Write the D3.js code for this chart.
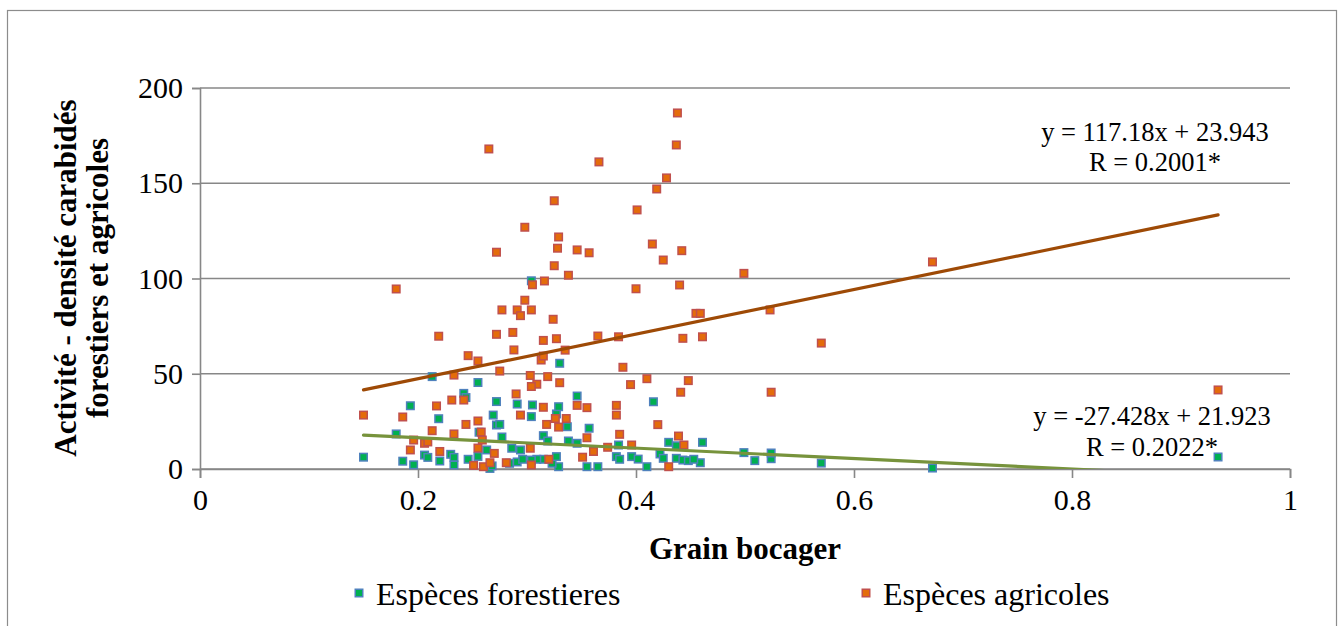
<!DOCTYPE html>
<html>
<head>
<meta charset="utf-8">
<script src="https://cdn.jsdelivr.net/npm/d3@7"></script>
<style>
  html, body { margin: 0; padding: 0; background: #fff; }
  svg { display: block; }
  svg text { font-family: "Liberation Serif", "Times New Roman", serif; }
</style>
</head>
<body>
<svg id="chart" width="1344" height="626"></svg>
<script>
// Grain bocager (x) vs activité-densité (y) for forest and agricultural carabid species
const forestX = [0.150,0.180,0.186,0.196,0.193,0.206,0.209,0.213,0.219,0.220,0.230,0.233,0.233,0.242,0.244,0.246,
  0.255,0.255,0.256,0.263,0.266,0.268,0.269,0.272,0.272,0.275,0.277,0.284,0.286,0.291,0.291,0.304,0.305,0.304,
  0.315,0.319,0.327,0.329,0.330,0.337,0.338,0.346,0.346,0.357,0.355,0.365,0.384,0.396,0.402,0.410,0.416,0.430,
  0.437,0.461,0.499,0.509,0.524,0.570,0.672,0.934,0.422,0.425,0.437,0.443,0.448,0.459,0.453,0.382,0.385,0.329,
  0.323,0.327,0.315,0.309,0.304,0.294,0.296,0.524];
const forestY = [6.2,18.4,4.1,2.2,33.2,7.3,6.1,48.5,26.4,4.2,7.7,6.1,2.1,39.7,37.5,5.1,
  45.4,6.6,19.3,10.0,0.3,1.6,28.3,35.4,23.1,23.4,16.8,3.0,10.9,34.1,3.7,98.8,33.6,27.5,
  17.5,14.7,28.9,32.7,55.5,22.2,14.7,13.5,38.3,21.4,1.2,1.2,12.6,6.5,5.2,1.2,35.3,14.0,
  12.2,14.0,8.6,4.4,5.4,3.1,0.5,6.3,7.9,5.6,5.6,4.7,4.4,3.3,5.1,6.5,5.1,1.2,
  3.0,6.5,5.1,5.1,4.7,10.0,5.1,8.4];

const agriX = [0.150,0.180,0.186,0.196,0.193,0.206,0.209,0.213,0.217,0.219,0.220,0.231,0.233,0.233,0.242,0.244,
  0.246,0.251,0.255,0.255,0.255,0.258,0.259,0.260,0.266,0.270,0.272,0.272,0.265,0.275,0.277,0.281,0.287,0.288,
  0.290,0.291,0.294,0.294,0.298,0.298,0.303,0.303,0.304,0.304,0.305,0.309,0.304,0.315,0.313,0.315,0.315,0.316,
  0.318,0.319,0.320,0.324,0.325,0.325,0.326,0.327,0.329,0.328,0.330,0.329,0.335,0.336,0.338,0.346,0.346,0.351,
  0.355,0.355,0.357,0.361,0.365,0.366,0.374,0.382,0.382,0.384,0.385,0.388,0.395,0.396,0.400,0.401,0.410,0.415,
  0.419,0.420,0.425,0.428,0.430,0.437,0.438,0.439,0.440,0.441,0.442,0.443,0.444,0.448,0.455,0.459,0.461,0.499,
  0.523,0.524,0.570,0.672,0.934];
const agriY = [28.3,94.5,27.3,15.2,10.0,13.5,14.2,20.1,33.1,69.7,9.2,36.2,49.3,18.4,36.2,23.4,
  59.5,1.9,56.7,25.2,11.0,19.4,15.2,1.2,3.3,8.2,70.7,113.8,168.0,51.4,83.5,3.3,71.7,62.5,
  39.4,83.5,80.5,28.3,126.9,88.6,49.1,10.9,2.1,83.5,96.7,44.5,43.3,67.5,57.2,59.3,32.4,98.7,
  23.4,48.5,5.1,78.6,106.7,140.8,26.5,68.4,121.8,115.9,45.3,22.0,62.4,26.5,101.7,33.4,115.0,6.2,
  16.4,32.2,113.5,9.2,69.8,161.2,11.4,33.4,28.3,69.4,18.2,53.4,44.3,12.6,94.6,136.0,47.4,118.1,
  147.0,23.3,109.7,152.8,1.2,170.1,186.9,17.3,96.6,40.3,114.6,68.6,12.6,46.4,81.7,81.7,69.4,102.7,
  83.5,40.3,66.1,108.7,41.5];

const xTicks = [0, 0.2, 0.4, 0.6, 0.8, 1];
const xTickLabels = ["0", "0.2", "0.4", "0.6", "0.8", "1"];
const yTicks = [0, 50, 100, 150, 200];

// Linear fits as reported on the chart
const forestFit = { slope: -27.428, intercept: 21.923, eq: "y = -27.428x + 21.923", r: "R = 0.2022*" };
const agriFit = { slope: 117.18, intercept: 23.943, eq: "y = 117.18x + 23.943", r: "R = 0.2001*" };

const seriesNames = ["Espèces forestieres", "Espèces agricoles"];

const svg = d3.select("#chart");
const plot = { left: 200, right: 1290, top: 88, bottom: 469 };

const x = d3.scaleLinear().domain([0, 1]).range([plot.left, plot.right]);
const y = d3.scaleLinear().domain([0, 200]).range([plot.bottom, plot.top]);

const serif = "Liberation Serif";
const tickFont = 30, titleFont = 31, legendFont = 32, fitFont = 26.5;

// Outer chart frame
svg.append("rect")
  .attr("x", 7.5).attr("y", 10.5).attr("width", 1329).attr("height", 640)
  .attr("fill", "#fff").attr("stroke", "#8c8c8c").attr("stroke-width", 1.2);

const gridColor = "#878787";

// Horizontal gridlines
svg.append("g").selectAll("line").data(yTicks).join("line")
  .attr("x1", plot.left).attr("x2", plot.right)
  .attr("y1", d => y(d)).attr("y2", d => y(d))
  .attr("stroke", gridColor).attr("stroke-width", 1.6);

// Y axis
const yAxis = svg.append("g")
  .attr("transform", `translate(${plot.left},0)`)
  .call(d3.axisLeft(y).tickValues(yTicks).tickSize(8).tickPadding(9).tickFormat(d3.format("d")));
yAxis.attr("font-family", serif);
yAxis.select(".domain").attr("stroke", gridColor).attr("stroke-width", 1.6);
yAxis.selectAll(".tick line").attr("stroke", gridColor).attr("stroke-width", 1.6);
yAxis.selectAll(".tick text")
  .attr("font-family", serif).attr("font-size", tickFont).attr("fill", "#000");

// X axis
const xAxis = svg.append("g")
  .attr("transform", `translate(0,${plot.bottom})`)
  .call(d3.axisBottom(x).tickValues(xTicks).tickSize(9).tickPadding(11)
    .tickFormat((d, i) => xTickLabels[i]));
xAxis.attr("font-family", serif);
xAxis.select(".domain").attr("stroke", gridColor).attr("stroke-width", 1.6);
xAxis.selectAll(".tick line").attr("stroke", gridColor).attr("stroke-width", 1.6);
xAxis.selectAll(".tick text")
  .attr("font-family", serif).attr("font-size", tickFont).attr("fill", "#000");

// Axis titles
svg.append("text")
  .attr("x", 745).attr("y", 559)
  .attr("text-anchor", "middle")
  .attr("font-family", serif)
  .attr("font-size", titleFont).attr("font-weight", "bold")
  .text("Grain bocager");

const yTitle = svg.append("text")
  .attr("transform", "translate(0,278) rotate(-90)")
  .attr("text-anchor", "middle")
  .attr("font-family", serif)
  .attr("font-size", titleFont).attr("font-weight", "bold");
yTitle.append("tspan").attr("x", 0).attr("y", 76).text("Activité - densité carabidés");
yTitle.append("tspan").attr("x", 0).attr("y", 108).text("forestiers et agricoles");

// Markers
const styles = [
  { fill: "#00B050", stroke: "#4F81BD" },
  { fill: "#E46C0A", stroke: "#C0504D" }
];
const ms = 7.5;

function drawSeries(xs, ys, st) {
  const pts = xs.map((v, i) => [v, ys[i]]);
  svg.append("g").selectAll("rect").data(pts).join("rect")
    .attr("x", d => x(d[0]) - ms / 2).attr("y", d => y(d[1]) - ms / 2)
    .attr("width", ms).attr("height", ms)
    .attr("fill", st.fill).attr("stroke", st.stroke).attr("stroke-width", 1.5);
}
drawSeries(forestX, forestY, styles[0]);
drawSeries(agriX, agriY, styles[1]);

// Trend lines clipped to the plot area
svg.append("clipPath").attr("id", "plotClip")
  .append("rect").attr("x", plot.left).attr("y", plot.top)
  .attr("width", plot.right - plot.left).attr("height", plot.bottom - plot.top);

function trend(xs, fit, color) {
  const [x0, x1] = d3.extent(xs);
  const line = d3.line().x(d => x(d)).y(d => y(fit.slope * d + fit.intercept));
  svg.append("path")
    .datum([x0, x1])
    .attr("d", line)
    .attr("clip-path", "url(#plotClip)")
    .attr("fill", "none").attr("stroke", color).attr("stroke-width", 3.2)
    .attr("stroke-linecap", "round");
}
trend(forestX, forestFit, "#77933C");
trend(agriX, agriFit, "#9E4A06");

// Regression labels
function fitLabel(fit, cx, y1, y2) {
  const t = svg.append("text").attr("text-anchor", "middle")
    .attr("font-family", serif).attr("font-size", fitFont);
  t.append("tspan").attr("x", cx).attr("y", y1).text(fit.eq);
  t.append("tspan").attr("x", cx).attr("y", y2).text(fit.r);
}
fitLabel(agriFit, 1155, 141, 171);
fitLabel(forestFit, 1152, 425, 456);

// Legend
const legend = [
  { name: seriesNames[0], st: styles[0], mx: 359, tx: 376 },
  { name: seriesNames[1], st: styles[1], mx: 866, tx: 883 }
];
const lg = svg.append("g");
legend.forEach(l => {
  lg.append("rect")
    .attr("x", l.mx - ms / 2).attr("y", 593 - ms / 2).attr("width", ms).attr("height", ms)
    .attr("fill", l.st.fill).attr("stroke", l.st.stroke).attr("stroke-width", 1.5);
  lg.append("text").attr("x", l.tx).attr("y", 605)
    .attr("font-family", serif).attr("font-size", legendFont).text(l.name);
});
</script>
</body>
</html>
